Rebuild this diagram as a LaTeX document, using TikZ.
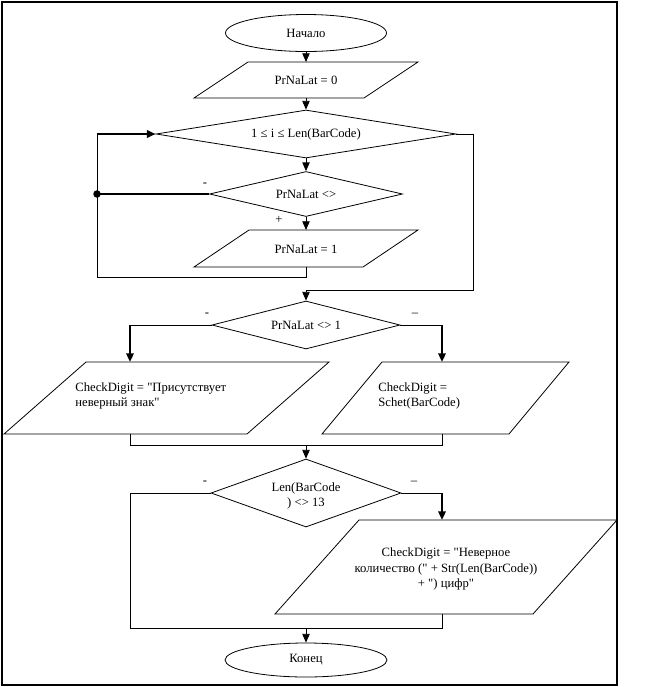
\documentclass[tikz,border=0pt]{standalone}
\usepackage{fontspec}
\setmainfont{Liberation Serif}[Ligatures=TeXOff]
\usetikzlibrary{shapes.geometric,arrows.meta}
\begin{document}
\begin{tikzpicture}[x=0.75pt,y=-0.75pt,
  every path/.style={line width=0.6pt},
  thickline/.style={line width=2pt},
  arr/.style={-{Triangle[length=6.5pt,width=5.5pt]}},
  box/.style={draw,line width=0.6pt},
  txt/.style={font=\fontsize{9.5}{11.5}\selectfont,inner sep=0pt},
  term/.style={ellipse,draw,line width=0.6pt,inner sep=0pt,font=\fontsize{9.5}{11.5}\selectfont},
  dec/.style={diamond,draw,line width=0.6pt,inner sep=0pt}]
\useasboundingbox (0,0) rectangle (646,687);
\draw[line width=1pt] (2,2) rectangle (617,685);

% start
\node[term,minimum width=161*0.75pt,minimum height=37*0.75pt] (start) at (306,33) {Начало};

% para 1
\draw[box] (248,62) -- (418,62) -- (364,98) -- (194,98) -- cycle;
\node[txt] (p1) at (306,80) {PrNaLat = 0};
\coordinate (p1n) at (306,62);
\coordinate (p1s) at (306,98);

% decision 1
\node[dec,minimum width=300*0.75pt,minimum height=48*0.75pt] (d1) at (306,134) {};
\node[txt] (d1t) at (d1.center) {1 ≤ i ≤ Len(BarCode)};

% decision 2
\node[dec,minimum width=193*0.75pt,minimum height=45*0.75pt] (d2) at (306,194) {};
\node[txt] (d2t) at (d2.center) {PrNaLat <>};

% para 2
\draw[box] (249,230) -- (418,230) -- (363,267) -- (194,267) -- cycle;
\node[txt] (p2) at (306,249) {PrNaLat = 1};
\coordinate (p2n) at (306,230);
\coordinate (p2s) at (306,267);

% decision 3
\node[dec,minimum width=188*0.75pt,minimum height=48*0.75pt] (d3) at (306,325) {};
\node[txt] (d3t) at (d3.center) {PrNaLat <> 1};

% left para
\draw[box] (86,362) -- (329,362) -- (247,434) -- (4,434) -- cycle;
\node[txt,align=left,anchor=west] (pl) at (75,396) {CheckDigit = "Присутствует\\неверный знак"};
\coordinate (pln) at (130,362);
\coordinate (pls) at (130,434);

% right para
\draw[box] (382,362) -- (569,362) -- (509,434) -- (322,434) -- cycle;
\node[txt,align=left,anchor=west] (pr) at (378,396) {CheckDigit =\\Schet(BarCode)};
\coordinate (prn) at (442,362);
\coordinate (prs) at (442,434);

% decision 4
\node[dec,minimum width=190*0.75pt,minimum height=68*0.75pt] (d4) at (306,493) {};
\node[txt,align=center] (d4t) at (306,496) {Len(BarCode\\) <> 13};

% big para
\draw[box] (359,520) -- (617,520) -- (533,614) -- (275,614) -- cycle;
\node[txt,align=center] (pb) at (446,569) {CheckDigit = "Неверное\\количество (" + Str(Len(BarCode))\\+ ") цифр"};
\coordinate (pbn) at (442,520);
\coordinate (pbs) at (442,614);

% end
\node[term,minimum width=162*0.75pt,minimum height=34*0.75pt] (end) at (306,660) {Конец};

% junction coordinates
\coordinate (lb1) at (306,277);
\coordinate (lb2) at (97,277);
\coordinate (lb3) at (97,134);
\coordinate (dot) at (97,194);
\coordinate (r1) at (473,134);
\coordinate (r2) at (473,290);
\coordinate (r3) at (306,290);
\coordinate (l3) at (130,325);
\coordinate (r3b) at (442,325);
\coordinate (m1) at (130,445);
\coordinate (m2) at (442,445);
\coordinate (m) at (306,445);
\coordinate (l4) at (130,493);
\coordinate (l4b) at (130,628);
\coordinate (r4) at (442,493);
\coordinate (m3b) at (442,628);
\coordinate (m3) at (306,628);

% connectors
\draw[arr] (start) -- (p1n);
\draw[arr] (p1s) -- (d1);
\draw[arr] (d1) -- (d2);
\draw[arr] (d2) -- (p2n);
\draw (p2s) -- (lb1) -- (lb2) -- (lb3);
\draw[thickline,arr] (lb3) -- (d1.west);
\draw[thickline] (d2.west) -- (dot);
\fill (dot) circle[radius=2.8pt];
\draw (d1.east) -- (r1) -- (r2) -- (r3);
\draw[arr] (r3) -- (d3);
\draw (d3.west) -- (l3);
\draw[thickline,arr] (l3) -- (pln);
\draw (d3.east) -- (r3b);
\draw[thickline,arr] (r3b) -- (prn);
\draw (pls) -- (m1) -- (m2) -- (prs);
\draw[arr] (m) -- (d4);
\draw (d4.west) -- (l4) -- (l4b) -- (m3b) -- (pbs);
\draw (d4.east) -- (r4);
\draw[thickline,arr] (r4) -- (pbn);
\draw[arr] (m3) -- (end);

% branch labels
\node[txt] (lab1) at (205,185) {-};
\node[txt] (lab2) at (279,220) {+};
\node[txt] (lab3) at (207,315) {-};
\node[txt] (lab4) at (415,315) {–};
\node[txt] (lab5) at (205,483) {-};
\node[txt] (lab6) at (414,483) {–};
\end{tikzpicture}
\end{document}
